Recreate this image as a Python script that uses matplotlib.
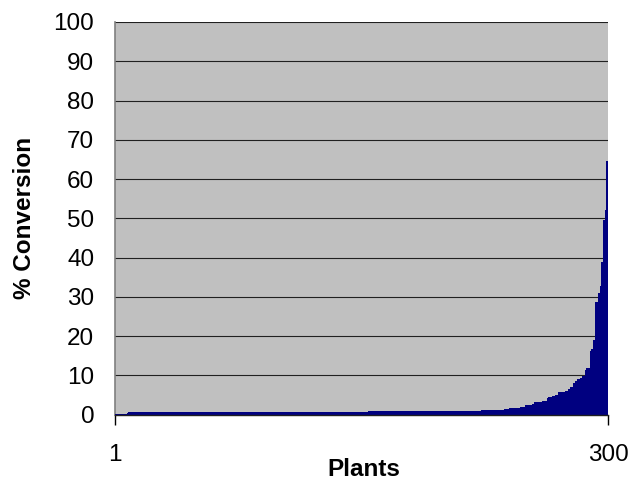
import numpy as np
import matplotlib
matplotlib.use("Agg")
import matplotlib.pyplot as plt

plt.rcParams['font.family'] = ['Liberation Sans', 'DejaVu Sans']

# Sorted % conversion per plant (value, number of plants)
run_values = [0.1, 0.1, 0.2, 0.2, 0.2, 0.3, 0.3, 0.4,
              0.75, 0.95, 1.2, 1.5, 1.7, 2.0, 2.5, 2.8, 3.2, 3.6, 4.2, 4.5,
              4.7, 5.0, 5.7, 6.0, 6.5, 7.0, 8.0, 8.7, 9.0, 9.4, 9.9, 11.4,
              11.8, 16.2, 16.7, 19.1, 28.6, 28.8, 31.0, 32.8, 39.0, 49.7, 52.2, 64.5]
run_counts = [1, 1, 1, 1, 1, 1, 1, 1,
              145, 68, 14, 3, 7, 3, 4, 1, 5, 3, 1, 2,
              2, 2, 4, 2, 1, 2, 1, 1, 2, 1, 2, 1,
              2, 1, 1, 1, 1, 1, 1, 1, 1, 1, 1, 1]
conversion = np.repeat(run_values, run_counts)
plants = np.arange(1, len(conversion) + 1)

y_ticks = [0, 10, 20, 30, 40, 50, 60, 70, 80, 90, 100]
x_tick_labels = ['1', '300']

W, H = 642, 482
fig = plt.figure(figsize=(W / 100, H / 100), dpi=100)
ax = fig.add_axes([115 / W, (H - 414.7) / H, 493 / W, (414.7 - 22) / H])
ax.set_facecolor('#C0C0C0')

ax.bar(plants, conversion, width=1.0, color='#000080', linewidth=0, zorder=3)

ax.set_xlim(0.5, len(conversion) + 0.5)
ax.set_ylim(0, 100)
ax.set_yticks(y_ticks)
ax.set_yticklabels([str(v) for v in y_ticks], fontsize=17.5)
ax.set_xticks([0.5, len(conversion) + 0.5])
ax.set_xticklabels(x_tick_labels, fontsize=17.5)

ax.yaxis.grid(True, color='#202020', linewidth=0.8, zorder=1)
ax.set_axisbelow(True)

for s in ['top', 'right']:
    ax.spines[s].set_visible(False)
ax.spines['left'].set_color('#808080')
ax.spines['left'].set_linewidth(1.2)
ax.spines['bottom'].set_color('#202020')
ax.spines['bottom'].set_linewidth(1.0)
ax.spines['bottom'].set_zorder(4)

ax.tick_params(axis='y', direction='out', length=0, pad=15, colors='black')
ax.tick_params(axis='x', direction='out', length=7, width=1.0, pad=14, colors='black')

fig.text(25 / W, 1 - 218 / H, '% Conversion', rotation=90, ha='center', va='center',
         fontsize=17.5, fontweight='bold')
fig.text(364 / W, 6 / H, 'Plants', ha='center', va='baseline',
         fontsize=17.5, fontweight='bold')

fig.savefig('out.png', dpi=100)
